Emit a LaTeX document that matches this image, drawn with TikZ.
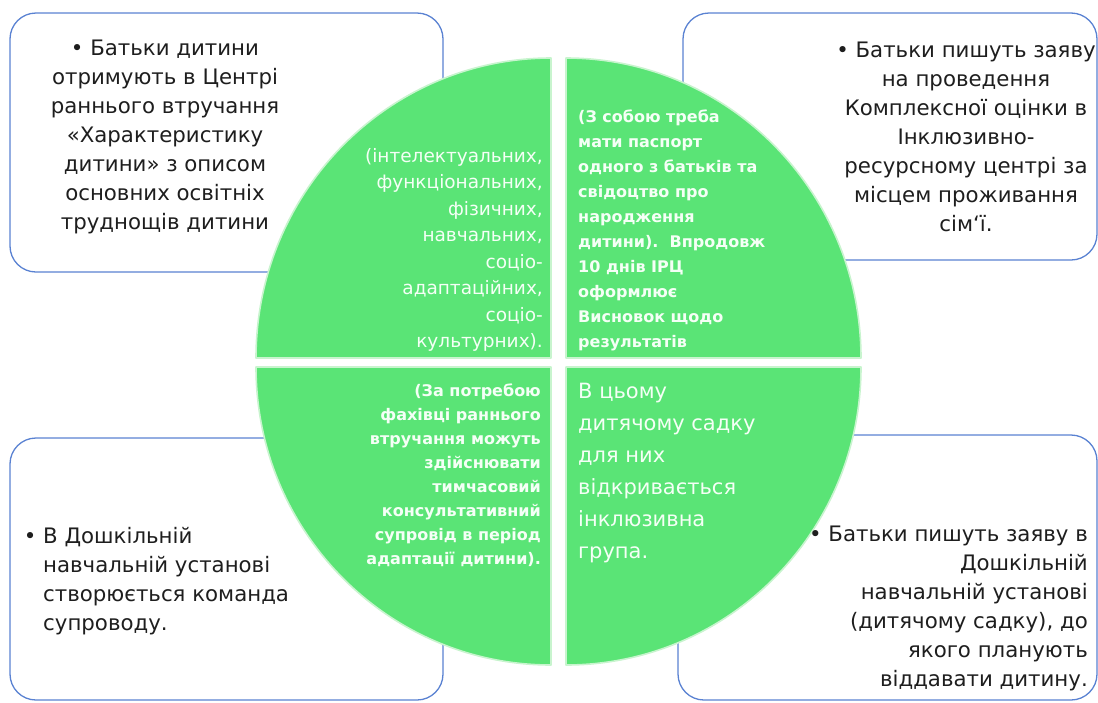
\documentclass[tikz,border=0pt]{standalone}
\usepackage{fontspec}
\setmainfont{DejaVu Sans}
\definecolor{qgreen}{RGB}{90,228,118}
\definecolor{qedge}{RGB}{200,244,206}
\definecolor{boxblue}{RGB}{90,130,210}
\definecolor{txt}{RGB}{30,30,30}
\definecolor{qtxt}{RGB}{245,255,246}
\begin{document}
\begin{tikzpicture}[x=1pt,y=-1pt,
  infobox/.style={draw=boxblue,line width=1.3pt,fill=white,rounded corners=26pt},
  quad/.style={fill=qgreen,draw=qedge,line width=1.6pt,line join=round},
  boxtext/.style={text=txt,inner sep=0pt,font=\fontsize{21.3}{29}\selectfont},
  quadtext/.style={text=qtxt,inner sep=0pt}]
\useasboundingbox (0,0) rectangle (1098,702);
% boxes
\draw[infobox] (10,13) rectangle (443,272);
\draw[infobox] (683,13) rectangle (1097,260);
\draw[infobox] (10,438) rectangle (443,700);
\draw[infobox] (678,435) rectangle (1097,700);
% quadrants
\path[quad] (551,358) -- ++(-295pt,0pt) arc[start angle=180,end angle=90,x radius=295pt,y radius=300pt] -- cycle;
\path[quad] (566,358) -- ++(0pt,300pt) arc[start angle=90,end angle=0,x radius=295pt,y radius=300pt] -- cycle;
\path[quad] (551,367) -- ++(-295pt,0pt) arc[start angle=180,end angle=270,x radius=295pt,y radius=298pt] -- cycle;
\path[quad] (566,367) -- ++(295pt,0pt) arc[start angle=0,end angle=-90,x radius=295pt,y radius=298pt] -- cycle;
% box texts
\node[boxtext,align=center] (tl) at (165,137) {• Батьки дитини\\отримують в Центрі\\раннього втручання\\«Характеристику\\дитини» з описом\\основних освітніх\\труднощів дитини};
\node[boxtext,align=center] (tr) at (966,137) {• Батьки пишуть заяву\\на проведення\\Комплексної оцінки в\\Інклюзивно-\\ресурсному центрі за\\місцем проживання\\сім‘ї.};
\node[boxtext,align=left,anchor=west] (bl) at (43,581) {\llap{•\ }В Дошкільній\\навчальній установі\\створюється команда\\супроводу.};
\node[boxtext,align=right,anchor=east] (br) at (1088,608) {• Батьки пишуть заяву в\\Дошкільній\\навчальній установі\\(дитячому садку), до\\якого планують\\віддавати дитину.};
% quadrant texts
\node[quadtext,align=right,anchor=east,font=\fontsize{18.5}{26.5}\selectfont] (qtl) at (543,250) {(інтелектуальних,\\функціональних,\\фізичних,\\навчальних,\\соціо-\\адаптаційних,\\соціо-\\культурних).};
\node[quadtext,align=left,anchor=west,font=\bfseries\fontsize{16}{25}\selectfont] (qtr) at (578,230) {(З собою треба\\мати паспорт\\одного з батьків та\\свідоцтво про\\народження\\дитини).\ \ Впродовж\\10 днів ІРЦ\\оформлює\\Висновок щодо\\результатів};
\node[quadtext,align=right,anchor=east,font=\bfseries\fontsize{16}{24}\selectfont] (qbl) at (541,475) {(За потребою\\фахівці раннього\\втручання можуть\\здійснювати\\тимчасовий\\консультативний\\супровід в період\\адаптації дитини).};
\node[quadtext,align=left,anchor=west,font=\fontsize{21}{32}\selectfont] (qbr) at (578,473) {В цьому\\дитячому садку\\для них\\відкривається\\інклюзивна\\група.};
\end{tikzpicture}
\end{document}
